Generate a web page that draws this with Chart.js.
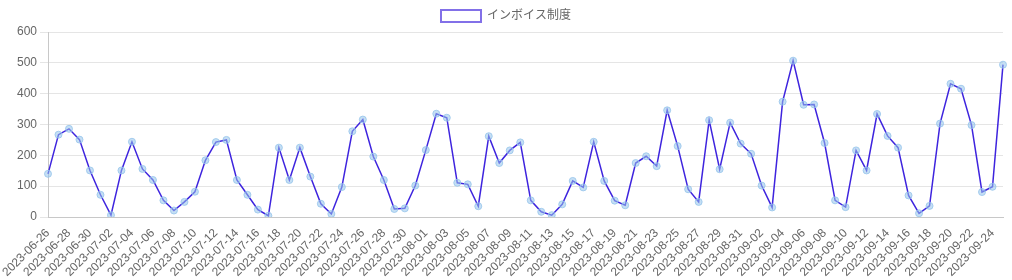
<!DOCTYPE html>
<html lang="ja">
    <head>
        <title>インボイス制度</title>
        <meta charset="utf-8">
        <script src="https://cdn.jsdelivr.net/npm/chart.js@4.4.0/dist/chart.umd.min.js"></script>
        <style>
            body {
                margin: 0;
                background: #fff;
            }
            #chartBox {
                width: 1012px;
                height: 280px;
            }
        </style>
    </head>
    <body>
        <div id="chartBox"><!-- chart container -->
            <canvas id="trendChart"></canvas>
        </div>
        <script>
            // daily dates 2023-06-26 .. 2023-09-25
            var startDate = '2023-06-26';
            var dayCount = 92;
            var dates = [];
            for (var i = 0; i < dayCount; i++) {
                var d = new Date(startDate + 'T00:00:00Z');
                d.setUTCDate(d.getUTCDate() + i);
                dates.push(d.toISOString().slice(0, 10));
            }

            var seriesName = 'インボイス制度';
            var counts = [140, 267, 286, 251, 151, 72, 6, 151, 244, 156,
                120, 54, 21, 49, 82, 184, 243, 250, 120, 72,
                24, 4, 225, 120, 225, 131, 43, 10, 97, 278,
                316, 196, 120, 26, 28, 102, 217, 335, 322, 111,
                106, 35, 262, 175, 216, 242, 54, 17, 6, 41,
                117, 96, 244, 117, 53, 38, 175, 197, 165, 346,
                230, 90, 49, 314, 155, 306, 238, 205, 102, 31,
                374, 507, 364, 365, 240, 54, 32, 216, 151, 334,
                263, 225, 70, 12, 36, 303, 432, 416, 298, 81,
                98, 494];

            var yMin = 0;
            var yMax = 600;
            var yStep = 100;

            var fontFamily = "'Helvetica Neue', Helvetica, Arial, 'Liberation Sans', 'Noto Sans CJK JP', sans-serif";

            var ctx = document.getElementById('trendChart').getContext('2d');
            var myChart = new Chart(ctx, {
                type: 'line',
                data: {
                    labels: dates,
                    datasets: [{
                        label: seriesName,
                        data: counts,
                        borderColor: 'rgb(62, 36, 222)',
                        backgroundColor: '#ffffff',
                        borderWidth: 1.5,
                        pointRadius: 3.5,
                        pointBorderWidth: 1,
                        pointBackgroundColor: 'rgba(150, 196, 235, 0.55)',
                        pointBorderColor: 'rgba(150, 196, 235, 0.8)',
                        tension: 0
                    }]
                },
                options: {
                    responsive: true,
                    maintainAspectRatio: false,
                    animation: false,
                    plugins: {
                        legend: {
                            labels: {
                                color: '#666',
                                font: { family: fontFamily, size: 12 },
                                boxWidth: 40,
                                boxHeight: 12,
                                generateLabels: function (chart) {
                                    var items = Chart.defaults.plugins.legend.labels.generateLabels(chart);
                                    items.forEach(function (it) {
                                        it.strokeStyle = 'rgb(130, 112, 232)';
                                        it.lineWidth = 2;
                                    });
                                    return items;
                                }
                            }
                        },
                        tooltip: { enabled: false }
                    },
                    scales: {
                        x: {
                            grid: { display: false },
                            border: { color: '#c8c8c8' },
                            afterFit: function (scale) {
                                scale.height = 63;
                                scale.paddingRight = 9;
                            },
                            ticks: {
                                color: '#666',
                                font: { family: fontFamily, size: 12 },
                                autoSkip: false,
                                padding: 1,
                                maxRotation: 45,
                                minRotation: 45,
                                // show every other date
                                callback: function (value, index) {
                                    return index % 2 === 0 ? this.getLabelForValue(value) : '';
                                }
                            }
                        },
                        y: {
                            min: yMin,
                            max: yMax,
                            grid: { color: '#e5e5e5' },
                            border: { color: '#c8c8c8' },
                            afterFit: function (scale) {
                                scale.width = 48;
                            },
                            ticks: {
                                stepSize: yStep,
                                color: '#666',
                                font: { family: fontFamily, size: 12 }
                            }
                        }
                    }
                }
            });
        </script>
    </body>
</html>
